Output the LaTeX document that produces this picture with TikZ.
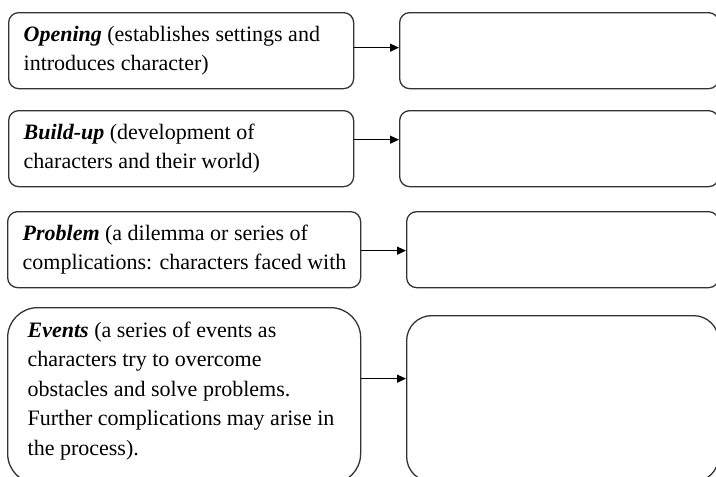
\documentclass[tikz,border=0pt]{standalone}
\usepackage{fontspec}
\setmainfont{Liberation Serif}
\usetikzlibrary{arrows.meta}
\definecolor{edge}{HTML}{333333}
\tikzset{
  box/.style={draw=edge, line width=1.3pt, rounded corners=10pt, anchor=north west, inner sep=0pt},
  textbox/.style={box, align=flush left, font=\fontsize{22pt}{29.5pt}\selectfont},
  link/.style={draw=black, line width=1.3pt, -{Triangle[length=9pt,width=8pt]}}
}
\begin{document}
\begin{tikzpicture}[x=1pt,y=-1pt]
\useasboundingbox (0,0) rectangle (716,477);
\clip (0,0) rectangle (716,477);
% left boxes
\node[textbox, minimum width=345pt, minimum height=76pt, text width=315pt, inner xsep=15pt] (open) at (8,12)
  {\mbox{\textbf{\textit{Opening}} (establishes settings and}\\introduces character)};
\node[textbox, minimum width=345pt, minimum height=76pt, text width=315pt, inner xsep=15pt] (build) at (8,110)
  {\textbf{\textit{Build-up}} (development of\\characters and their world)};
\node[textbox, minimum width=353pt, minimum height=76pt, text width=323pt, inner xsep=15pt] (prob) at (7,211)
  {\textbf{\textit{Problem}} (a dilemma or series of\\\mbox{complications: characters faced with}};
\node[textbox, rounded corners=30pt, minimum width=353pt, minimum height=176pt, text width=313pt, inner xsep=20pt] (events) at (7,307)
  {\textbf{\textit{Events}} (a series of events as\\characters try to overcome\\obstacles and solve problems.\\\mbox{Further complications may arise in}\\the process).\vspace*{10pt}};
% right boxes
\node[box, minimum width=319pt, minimum height=76pt] (r1) at (399,12) {};
\node[box, minimum width=319pt, minimum height=76pt] (r2) at (399,110) {};
\node[box, minimum width=312pt, minimum height=76pt] (r3) at (406,211) {};
\node[box, rounded corners=25pt, minimum width=312pt, minimum height=166pt] (r4) at (406,315) {};
% arrows
\draw[link] ([yshift=3pt]open.east) -- ([yshift=3pt]r1.west);
\draw[link] ([yshift=9pt]build.east) -- ([yshift=9pt]r2.west);
\draw[link] ([yshift=-1pt]prob.east) -- ([yshift=-1pt]prob.east -| r3.west);
\draw[link] ([yshift=17pt]events.east) -- ([yshift=17pt]events.east -| r4.west);
\end{tikzpicture}
\end{document}
